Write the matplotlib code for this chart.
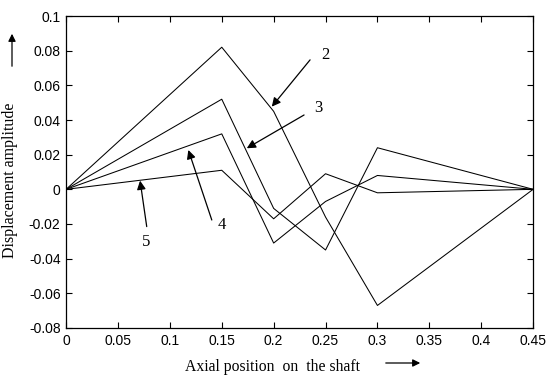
import matplotlib
matplotlib.use("Agg")
import matplotlib.pyplot as plt

# posiciones axiales (m) y amplitudes de cada modo
x_pos = [0, 0.15, 0.2, 0.25, 0.3, 0.45]
modo2 = [0, 0.082, 0.045, -0.016, -0.067, 0]
modo3 = [0, 0.052, -0.011, -0.035, 0.024, 0]
modo4 = [0, 0.032, -0.031, -0.007, 0.008, 0]
modo5 = [0, 0.011, -0.017, 0.009, -0.002, 0]

xticks = [0, 0.05, 0.1, 0.15, 0.2, 0.25, 0.3, 0.35, 0.4, 0.45]
yticks = [-0.08, -0.06, -0.04, -0.02, 0, 0.02, 0.04, 0.06, 0.08, 0.1]
xtick_labels = ["0", "0.05", "0.1", "0.15", "0.2", "0.25", "0.3", "0.35", "0.4", "0.45"]
ytick_labels = ["-0.08", "-0.06", "-0.04", "-0.02", "0", "0.02", "0.04", "0.06", "0.08", "0.1"]

# etiquetas de modo: texto, punta de flecha, cola de flecha, posicion del numero
etiquetas = ["2", "3", "4", "5"]
puntas = [(0.1982, 0.0477), (0.1741, 0.0237), (0.1178, 0.0227), (0.0713, 0.0050)]
colas = [(0.2351, 0.0747), (0.2293, 0.0429), (0.1404, -0.0177), (0.0777, -0.0215)]
textos = [(0.2496, 0.0775), (0.2431, 0.0467), (0.15, -0.0206), (0.0771, -0.0303)]

SERIF = "Liberation Serif"
SANS = "Liberation Sans"


def main():
    fig = plt.figure(figsize=(5.6, 3.76), dpi=100)
    ax = fig.add_axes([0.118, 0.1277, 0.834, 0.8297])

    for serie in (modo2, modo3, modo4, modo5):
        ax.plot(x_pos, serie, color="black", lw=0.75)

    ax.set_xlim(0, 0.45)
    ax.set_ylim(-0.08, 0.1)
    ax.set_xticks(xticks)
    ax.set_xticklabels(xtick_labels, fontname=SANS, fontsize=10)
    ax.set_yticks(yticks)
    ax.set_yticklabels(ytick_labels, fontname=SANS, fontsize=10)
    ax.tick_params(direction="in", top=True, right=True, length=4, width=0.8, pad=4)
    for s in ax.spines.values():
        s.set_linewidth(0.9)

    ax.set_xlabel("Axial position  on  the shaft", fontname=SERIF, fontsize=11.3)
    ax.xaxis.set_label_coords(0.441, -0.10)
    ax.set_ylabel("Displacement amplitude", fontname=SERIF, fontsize=11.5)
    ax.yaxis.set_label_coords(-0.104, 0.474)

    for lab, p, c, t in zip(etiquetas, puntas, colas, textos):
        ax.annotate("", xy=p, xytext=c,
                    arrowprops=dict(arrowstyle="-|>", color="black", lw=0.9,
                                    mutation_scale=13, shrinkA=0, shrinkB=0))
        ax.text(t[0], t[1], lab, fontname=SERIF, fontsize=12,
                ha="center", va="center")

    # flechas de los ejes
    fig.add_artist(matplotlib.patches.FancyArrowPatch(
        (383 / 560, 1 - 363 / 376), (423 / 560, 1 - 363 / 376),
        transform=fig.transFigure, arrowstyle="-|>", mutation_scale=11,
        color="black", lw=0.9))
    fig.add_artist(matplotlib.patches.FancyArrowPatch(
        (12 / 560, 1 - 69 / 376), (12 / 560, 1 - 31 / 376),
        transform=fig.transFigure, arrowstyle="-|>", mutation_scale=11,
        color="black", lw=0.9))

    fig.savefig("out.png", dpi=100)
    plt.close(fig)


if __name__ == "__main__":
    main()
